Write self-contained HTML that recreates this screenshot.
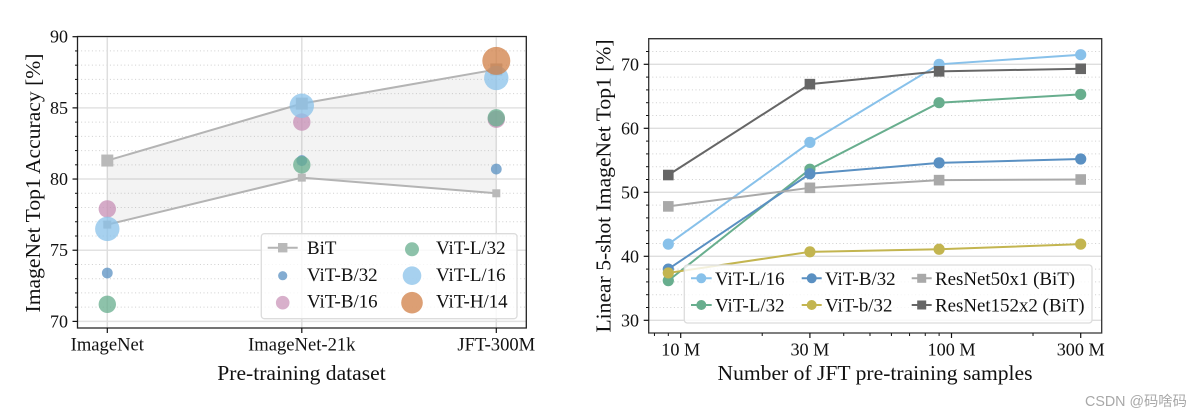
<!DOCTYPE html>
<html lang="en">
<head>
<meta charset="utf-8">
<title>ViT accuracy charts</title>
<style>
html,body{margin:0;padding:0;background:#fff;width:1200px;height:417px;overflow:hidden}
svg{display:block;font-family:"Liberation Serif","Noto Serif CJK SC",serif;fill:#111}
.tick{font-size:18px}
.xtick{font-size:18.6px}
.xtick-r{font-size:18.2px}
.title{font-size:21.6px}
.leg{font-size:18.9px}
</style>
</head>
<body>
<svg id="figure" width="1200" height="417" viewBox="0 0 1200 417" xmlns="http://www.w3.org/2000/svg">
  <defs>
    <clipPath id="clip-left"><rect x="77.5" y="36.5" width="449" height="291.5"/></clipPath>
    <clipPath id="clip-right"><rect x="648.7" y="38.7" width="453" height="294.3"/></clipPath>
  </defs>

  <g id="left-chart">
    <g id="left-grid"></g>
    <g id="left-marks" clip-path="url(#clip-left)"></g>
    <g id="left-axes"></g>
    <text class="title" text-anchor="middle" transform="translate(40,183) rotate(-90)">ImageNet Top1 Accuracy [%]</text>
    <text class="title" text-anchor="middle" x="301.5" y="380">Pre-training dataset</text>

    <g>
      <rect x="261.3" y="233.7" width="255.7" height="85" rx="3" fill="#fff" fill-opacity="0.8" stroke="#dcdcdc" stroke-width="1.3"/>
      <g>
        <line x1="267.7" y1="247.7" x2="297.7" y2="247.7" stroke="#b4b4b4" stroke-width="2"/>
        <rect x="278" y="243" width="9.4" height="9.4" fill="#b9b9b9"/>
        <text class="leg" x="307" y="254">BiT</text>
      </g>
      <g>
        <circle cx="282.7" cy="275.7" r="4.6" fill="#5a90c2" fill-opacity="0.75"/>
        <text class="leg" x="307" y="281">ViT-B/32</text>
      </g>
      <g>
        <circle cx="282.7" cy="302.7" r="6.8" fill="#c78fb5" fill-opacity="0.7"/>
        <text class="leg" x="307" y="307.7">ViT-B/16</text>
      </g>
      <g>
        <circle cx="412" cy="249.3" r="7" fill="#67ae8d" fill-opacity="0.75"/>
        <text class="leg" x="436" y="254">ViT-L/32</text>
      </g>
      <g>
        <circle cx="412" cy="275.7" r="9.3" fill="#89c2ea" fill-opacity="0.75"/>
        <text class="leg" x="436" y="281">ViT-L/16</text>
      </g>
      <g>
        <circle cx="412" cy="302.7" r="10.8" fill="#d07f45" fill-opacity="0.75"/>
        <text class="leg" x="436" y="307.7">ViT-H/14</text>
      </g>
    </g>
  </g>

  <g id="right-chart">
    <g id="right-grid"></g>
    <g id="right-marks" clip-path="url(#clip-right)"></g>
    <g id="right-axes"></g>
    <text class="title" text-anchor="middle" transform="translate(610.7,186) rotate(-90)">Linear 5-shot ImageNet Top1 [%]</text>
    <text class="title" text-anchor="middle" x="875" y="380">Number of JFT pre-training samples</text>

    <g>
      <rect x="684.3" y="265" width="407.7" height="58" rx="3" fill="#fff" fill-opacity="0.8" stroke="#dcdcdc" stroke-width="1.3"/>
      <g>
        <line x1="691" y1="278.3" x2="711.7" y2="278.3" stroke="#88c1ea" stroke-width="2"/>
        <circle cx="701.3" cy="278.3" r="5" fill="#88c1ea"/>
        <text class="leg" x="715" y="285">ViT-L/16</text>
      </g>
      <g>
        <line x1="691" y1="305" x2="711.7" y2="305" stroke="#68ae8e" stroke-width="2"/>
        <circle cx="701.3" cy="305" r="5" fill="#68ae8e"/>
        <text class="leg" x="715" y="311.7">ViT-L/32</text>
      </g>
      <g>
        <line x1="801.7" y1="278.3" x2="821.7" y2="278.3" stroke="#5a90c2" stroke-width="2"/>
        <circle cx="811.7" cy="278.3" r="5" fill="#5a90c2"/>
        <text class="leg" x="825" y="285">ViT-B/32</text>
      </g>
      <g>
        <line x1="801.7" y1="305" x2="821.7" y2="305" stroke="#c3b550" stroke-width="2"/>
        <circle cx="811.7" cy="305" r="5" fill="#c3b550"/>
        <text class="leg" x="825" y="311.7">ViT-b/32</text>
      </g>
      <g>
        <line x1="911.7" y1="278.3" x2="931.7" y2="278.3" stroke="#a9a9a9" stroke-width="2"/>
        <rect x="917.2" y="273.8" width="9" height="9" fill="#a9a9a9"/>
        <text class="leg" x="935" y="285">ResNet50x1 (BiT)</text>
      </g>
      <g>
        <line x1="911.7" y1="305" x2="931.7" y2="305" stroke="#666" stroke-width="2"/>
        <rect x="917.2" y="300.5" width="9" height="9" fill="#666"/>
        <text class="leg" x="935" y="311.7">ResNet152x2 (BiT)</text>
      </g>
    </g>
  </g>

  <text x="1085" y="406" font-size="14.3" fill="#a8a8a8" style="font-family:'Liberation Sans','Noto Sans CJK SC',sans-serif">CSDN @码啥码</text>
</svg>

<script>
// ---- left chart data ----
const datasetCategories = ['ImageNet', 'ImageNet-21k', 'JFT-300M'];
const bitUpper = [81.3, 85.3, 87.7];
const bitLower = [76.8, 80.1, 79.0];
const vitB32 = [73.4, 81.3, 80.7];
const vitB16 = [77.9, 84.0, 84.2];
const vitL32 = [71.2, 81.0, 84.3];
const vitL16 = [76.5, 85.15, 87.1];
const vitH14 = [null, null, 88.3];
const leftMajorTicks = [70, 75, 80, 85, 90];
const leftMinorTicks = [71, 72, 73, 74, 76, 77, 78, 79, 81, 82, 83, 84, 86, 87, 88, 89];

// ---- right chart data ----
const sampleCounts = [9, 30, 90, 300];
const fewL16 = [41.9, 57.8, 70.0, 71.5];
const fewL32 = [36.2, 53.6, 64.0, 65.3];
const fewB32 = [38.0, 52.9, 54.6, 55.2];
const fewb32 = [37.4, 40.7, 41.1, 41.9];
const fewR50 = [47.8, 50.7, 51.9, 52.0];
const fewR152 = [52.7, 66.9, 68.9, 69.3];
const rightMajorYTicks = [30, 40, 50, 60, 70];
const rightMinorYTicks = [32, 34, 36, 38, 42, 44, 46, 48, 52, 54, 56, 58, 62, 64, 66, 68, 72];
const rightMajorXTicks = [10, 30, 100, 300];
const rightXTickLabels = ['10 M', '30 M', '100 M', '300 M'];
const rightMinorXTicks = [8, 9, 20, 40, 50, 60, 70, 80, 90, 200];

// ---- axis functions ----
const xLeft = i => 107.3 + i * 194.5;
const yLeft = v => 321.4 - (v - 70) * 14.235;
const xRight = v => 680.7 + Math.log10(v / 10) * 270.8;
const yRight = v => 320.3 - (v - 30) * 6.4;

const NS = 'http://www.w3.org/2000/svg';
function make(parent, tag, attrs, text) {
  const el = document.createElementNS(NS, tag);
  for (const k in attrs) el.setAttribute(k, attrs[k]);
  if (text !== undefined) el.textContent = text;
  parent.appendChild(el);
  return el;
}
const $ = id => document.getElementById(id);

// ---- left grid ----
leftMinorTicks.forEach(v => {
  const el = make($('left-grid'), 'line', {x1: 77.5, x2: 526.3, y1: yLeft(v), y2: yLeft(v), stroke: '#cfcfcf', 'stroke-width': 1, 'stroke-dasharray': '1 2.6'});
  
  
});
leftMajorTicks.forEach(v => {
  const el = make($('left-grid'), 'line', {x1: 77.5, x2: 526.3, y1: yLeft(v), y2: yLeft(v), stroke: '#e2e2e2', 'stroke-width': 1.5});
  
  
});
datasetCategories.forEach((c, i) => {
  const el = make($('left-grid'), 'line', {x1: xLeft(i), x2: xLeft(i), y1: 36.5, y2: 328, stroke: '#dedede', 'stroke-width': 1.5});
  
  
});

// ---- left marks ----
const bitBandPoints = bitUpper.map((v, i) => xLeft(i) + ',' + yLeft(v))
  .concat(bitLower.map((v, i) => xLeft(i) + ',' + yLeft(v)).reverse()).join(' ');
const bitBand = make($('left-marks'), 'polygon', {points: bitBandPoints, fill: '#999', 'fill-opacity': 0.12});



const bitUpperLine = make($('left-marks'), 'polyline', {points: bitUpper.map((v, i) => xLeft(i) + ',' + yLeft(v)).join(' '), fill: 'none', stroke: '#b4b4b4', 'stroke-width': 2});


const bitLowerLine = make($('left-marks'), 'polyline', {points: bitLower.map((v, i) => xLeft(i) + ',' + yLeft(v)).join(' '), fill: 'none', stroke: '#b4b4b4', 'stroke-width': 2});



bitUpper.forEach((v, i) => {
  const el = make($('left-marks'), 'rect', {x: xLeft(i) - 6, y: yLeft(v) - 6, width: 12, height: 12, fill: '#b9b9b9'});
  
  
});
bitLower.forEach((v, i) => {
  const el = make($('left-marks'), 'rect', {x: xLeft(i) - 4, y: yLeft(v) - 4, width: 8, height: 8, fill: '#b9b9b9'});
  
  
});

function drawDots(values, radius, color, cb) {
  values.forEach((v, i) => {
    if (v === null) return;
    const el = make($('left-marks'), 'circle', {cx: xLeft(i), cy: yLeft(v), r: radius, fill: color, 'fill-opacity': 0.75});
    cb(el);
  });
}
drawDots(vitB32, 5.4, '#5a90c2', el => {
  
  
});
drawDots(vitB16, 8.7, '#c78fb5', el => {
  
  
});
drawDots(vitL32, 8.7, '#67ae8d', el => {
  
  
});
drawDots(vitL16, 12.2, '#89c2ea', el => {
  
  
});
drawDots(vitH14, 14, '#d07f45', el => {
  
  
});

// ---- left axes ----
const leftFrame = make($('left-axes'), 'path', {d: 'M77.5 36.5H526.3V328H77.5Z', fill: 'none', stroke: '#222', 'stroke-width': 1.3});


leftMajorTicks.forEach(v => {
  const t = make($('left-axes'), 'line', {x1: 72.5, x2: 77.5, y1: yLeft(v), y2: yLeft(v), stroke: '#111', 'stroke-width': 1.2});
  
  
  const l = make($('left-axes'), 'text', {class: 'tick', x: 68, y: yLeft(v) + 6, 'text-anchor': 'end'}, String(v));
  
  
});
leftMinorTicks.forEach(v => {
  const t = make($('left-axes'), 'line', {x1: 75, x2: 77.5, y1: yLeft(v), y2: yLeft(v), stroke: '#111', 'stroke-width': 1});
  
  
});
datasetCategories.forEach((c, i) => {
  const t = make($('left-axes'), 'line', {x1: xLeft(i), x2: xLeft(i), y1: 328, y2: 333, stroke: '#111', 'stroke-width': 1.2});
  
  
  const l = make($('left-axes'), 'text', {class: 'xtick', x: xLeft(i), y: 350.7, 'text-anchor': 'middle'}, c);
  
  
});

// ---- right grid ----
rightMinorYTicks.forEach(v => {
  const el = make($('right-grid'), 'line', {x1: 648.7, x2: 1101.7, y1: yRight(v), y2: yRight(v), stroke: '#cfcfcf', 'stroke-width': 1, 'stroke-dasharray': '1 2.6'});
  
  
});
rightMajorYTicks.forEach(v => {
  const el = make($('right-grid'), 'line', {x1: 648.7, x2: 1101.7, y1: yRight(v), y2: yRight(v), stroke: '#dedede', 'stroke-width': 1.4});
  
  
});

// ---- right marks ----
function drawSeries(values, color, square, cb) {
  const line = make($('right-marks'), 'polyline', {points: values.map((v, i) => xRight(sampleCounts[i]) + ',' + yRight(v)).join(' '), fill: 'none', stroke: color, 'stroke-width': 2});
  cb(line);
  values.forEach((v, i) => {
    const x = xRight(sampleCounts[i]);
    const y = yRight(v);
    const el = square
      ? make($('right-marks'), 'rect', {x: x - 5.3, y: y - 5.3, width: 10.6, height: 10.6, fill: color})
      : make($('right-marks'), 'circle', {cx: x, cy: y, r: 5.6, fill: color});
    cb(el);
  });
}
drawSeries(fewL16, '#88c1ea', false, el => {
  
  
});
drawSeries(fewL32, '#68ae8e', false, el => {
  
  
});
drawSeries(fewB32, '#5a90c2', false, el => {
  
  
});
drawSeries(fewb32, '#c3b550', false, el => {
  
  
});
drawSeries(fewR50, '#a9a9a9', true, el => {
  
  
});
drawSeries(fewR152, '#666666', true, el => {
  
  
});

// ---- right axes ----
const rightFrame = make($('right-axes'), 'path', {d: 'M648.7 38.7H1101.7V333H648.7Z', fill: 'none', stroke: '#333', 'stroke-width': 1.3});


rightMajorYTicks.forEach(v => {
  const t = make($('right-axes'), 'line', {x1: 643.7, x2: 648.7, y1: yRight(v), y2: yRight(v), stroke: '#111', 'stroke-width': 1.2});
  
  
  const l = make($('right-axes'), 'text', {class: 'tick', x: 639, y: yRight(v) + 6, 'text-anchor': 'end'}, String(v));
  
  
});
rightMinorYTicks.forEach(v => {
  const t = make($('right-axes'), 'line', {x1: 646, x2: 648.7, y1: yRight(v), y2: yRight(v), stroke: '#111', 'stroke-width': 1});
  
  
});
rightMajorXTicks.forEach((v, i) => {
  const t = make($('right-axes'), 'line', {x1: xRight(v), x2: xRight(v), y1: 333, y2: 338, stroke: '#111', 'stroke-width': 1.2});
  
  
  const l = make($('right-axes'), 'text', {class: 'xtick-r', x: xRight(v), y: 355.7, 'text-anchor': 'middle'}, rightXTickLabels[i]);
  
  
});
rightMinorXTicks.forEach(v => {
  const t = make($('right-axes'), 'line', {x1: xRight(v), x2: xRight(v), y1: 333, y2: 336, stroke: '#111', 'stroke-width': 1});
  
  
});
</script>
</body>
</html>
